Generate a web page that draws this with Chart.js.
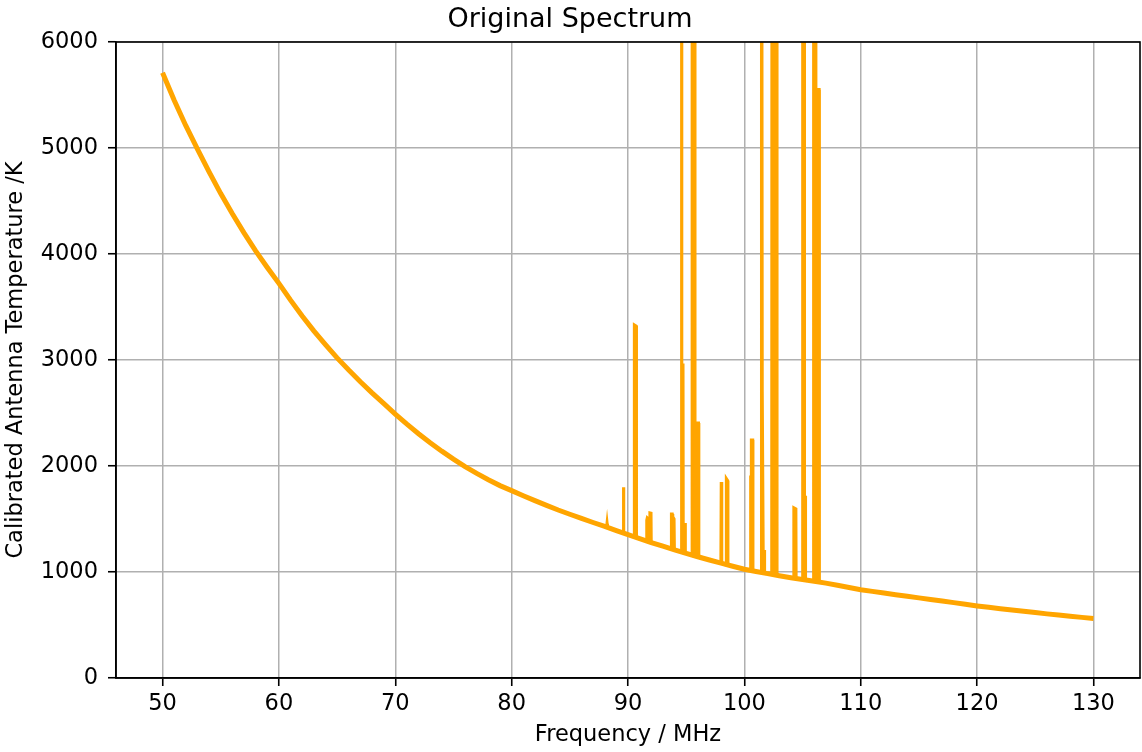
<!DOCTYPE html>
<html>
<head>
<meta charset="utf-8">
<script src="https://cdn.jsdelivr.net/npm/chart.js@4"></script>
<style>
  html, body { margin: 0; padding: 0; background: #fff; }
  canvas { display: block; }
</style>
</head>
<body>
<canvas id="c" width="1142" height="752"></canvas>
<script>
// ---- data ----
const baseFreq = [50,51,52,53,54,55,56,57,58,59,60,61,62,63,64,65,66,67,68,69,70,
  71,72,73,74,75,76,77,78,79,80,81,82,83,84,85,86,87,88,89,90,
  91,92,93,94,95,96,97,98,99,100,101,102,103,104,105,106,107,108,109,110,
  111,112,113,114,115,116,117,118,119,120,121,122,123,124,125,126,127,128,129,130];
const baseTemp = [5710,5450,5210,4990,4775,4570,4380,4200,4030,3873,3723,
  3565,3415,3275,3145,3020,2905,2795,2690,2590,2490,
  2395,2305,2220,2140,2065,1995,1930,1870,1815,1768,
  1720,1673,1628,1585,1545,1505,1467,1430,1390,1352,
  1315,1278,1243,1209,1176,1144,1113,1083,1054,1026,
  1005,985,965,946,929,913,895,875,854,833,
  817,801,786,771,756,741,726,711,695,680,
  667,654,641,629,617,605,594,583,572,562];

// RFI spikes (null = break between spikes); values above 6000 run off the top
const spikeFreq = [
  88.17,88.2,88.23, 88.23,
  89.58,89.61,89.64, 89.64,
  90.52,90.54,90.57,90.70,90.72, 90.72,
  91.60,91.62,91.66,91.70,91.72, 91.72,
  91.87,91.89,91.97,91.99, 91.99,
  93.72,93.74,93.80,93.84,93.95,93.98, 93.98,
  94.57,94.60,94.63,94.72,94.74, 94.74,
  94.88,94.90,94.92, 94.92,
  95.50,95.52,95.72,95.75,96.05,96.08, 96.08,
  97.99,98.02,98.05, 98.05,
  98.44,98.46,98.56,98.58, 98.58,
  100.53,100.55,100.59,100.61,100.71,100.73, 100.73,
  101.43,101.46,101.50,101.53,101.60,101.62, 101.62,
  101.70,101.72,101.74, 101.74,
  102.36,102.38,102.78,102.80, 102.80,
  104.24,104.26,104.42,104.44, 104.44,
  105.00,105.02,105.14,105.16, 105.16,
  105.22,105.24,105.26, 105.26,
  105.94,105.96,106.12,106.14,106.42,106.44
];
const spikeTemp = [
  1425,1455,1424, null,
  1375,1800,1374, null,
  1332,2745,3330,3320,1325, null,
  1294,1490,1509,1505,1290, null,
  1285,1557,1555,1281, null,
  1234,1547,1547,1520,1500,1211, null,
  1196,9000,2953,2953,1190, null,
  1186,1462,1185, null,
  1160,9000,9000,2405,2405,1142, null,
  1084,1849,1083, null,
  1070,1877,1860,1066, null,
  1011,1896,1896,2245,2245,1005, null,
  997,9000,9000,2700,2700,993, null,
  991,1208,990, null,
  978,9000,9000,969, null,
  942,1604,1595,939, null,
  929,9000,9000,926, null,
  925,1720,924, null,
  914,9000,9000,5550,5550,904
];

const xTicks = [50,60,70,80,90,100,110,120,130];
const yTicks = [0,1000,2000,3000,4000,5000,6000];

// ---- chart ----
const FONT = 'DejaVu Sans';
const orange = '#FFA500';

const basePoints = baseFreq.map((f, i) => ({x: f, y: baseTemp[i]}));
const spikePoints = spikeFreq.map((f, i) => ({x: f, y: spikeTemp[i]}));

const boxPlugin = {
  id: 'box',
  afterDraw(chart) {
    const {ctx, chartArea: a} = chart;
    ctx.save();
    ctx.strokeStyle = '#000';
    ctx.lineWidth = 1.6;
    ctx.strokeRect(a.left, a.top, a.right - a.left, a.bottom - a.top);
    ctx.restore();
  }
};

new Chart(document.getElementById('c'), {
  type: 'line',
  data: {
    datasets: [
      {
        data: basePoints,
        borderColor: orange,
        borderWidth: 5,
        pointRadius: 0,
        tension: 0,
        fill: false
      },
      {
        data: spikePoints,
        borderColor: orange,
        backgroundColor: orange,
        borderWidth: 3.2,
        pointRadius: 0,
        tension: 0,
        fill: 0,
        spanGaps: false
      }
    ]
  },
  options: {
    responsive: false,
    animation: false,
    events: [],
    layout: { padding: { left: 0, right: 2, top: 0, bottom: 0 } },
    plugins: {
      legend: { display: false },
      tooltip: { enabled: false },
      title: {
        display: true,
        text: 'Original Spectrum',
        color: '#000',
        font: { family: FONT, size: 27, weight: 'normal' },
        padding: { top: 4, bottom: 5.6 }
      }
    },
    scales: {
      x: {
        type: 'linear',
        min: 46, max: 134,
        afterBuildTicks: s => { s.ticks = xTicks.map(v => ({value: v})); },
        afterFit: s => { s.height = 74; },
        grid: { color: '#b0b0b0', lineWidth: 1.5, tickColor: '#000', tickWidth: 1.6, tickLength: 8 },
        border: { color: '#000', width: 1.6 },
        ticks: { color: '#000', font: { family: FONT, size: 22.5 }, padding: 5, maxRotation: 0, autoSkip: false,
                 callback: v => String(v) },
        title: { display: true, text: 'Frequency / MHz', color: '#000', font: { family: FONT, size: 22.5 }, padding: { top: 4, bottom: 3 } }
      },
      y: {
        type: 'linear',
        min: 0, max: 6000,
        afterBuildTicks: s => { s.ticks = yTicks.map(v => ({value: v})); },
        afterFit: s => { s.width = 116; },
        grid: { color: '#b0b0b0', lineWidth: 1.5, tickColor: '#000', tickWidth: 1.6, tickLength: 8 },
        border: { color: '#000', width: 1.6 },
        ticks: { color: '#000', font: { family: FONT, size: 22.5 }, padding: 10, autoSkip: false,
                 callback: v => String(v) },
        title: { display: true, text: 'Calibrated Antenna Temperature /K', color: '#000', font: { family: FONT, size: 22.5 }, padding: { top: 3, bottom: 0 } }
      }
    }
  },
  plugins: [boxPlugin]
});
</script>
</body>
</html>
